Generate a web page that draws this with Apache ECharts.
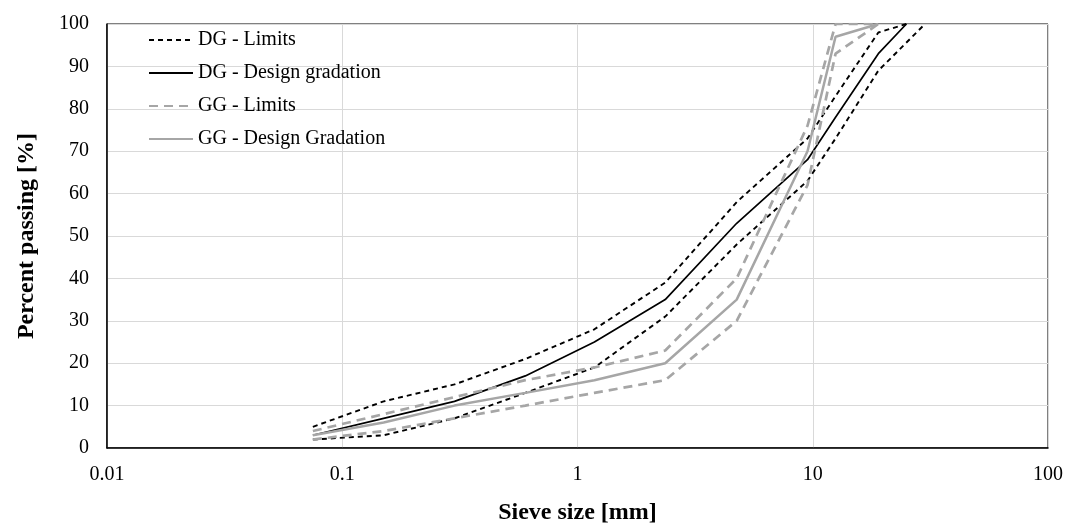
<!DOCTYPE html>
<html>
<head>
<meta charset="utf-8">
<script src="https://cdn.jsdelivr.net/npm/echarts/dist/echarts.min.js"></script>
<style>
  html, body { margin: 0; padding: 0; background: #fff; }
  #chart { width: 1069px; height: 530px; }
</style>
</head>
<body>
<div id="chart"></div>
<script>
// sieve sizes [mm]
const sieveDG = [0.075, 0.15, 0.3, 0.6, 1.18, 2.36, 4.75, 9.5, 12.5, 19, 25]
const sieveDGLow = [0.075, 0.15, 0.3, 0.6, 1.18, 2.36, 4.75, 9.5, 12.5, 19, 30]
const sieveGG = [0.075, 0.15, 0.3, 0.6, 1.18, 2.36, 4.75, 9.5, 12.5, 19]

// percent passing
const dgUpper = [5, 11, 15, 21, 28, 39, 58, 73, 83, 98, 100]
const dgDesign = [3, 7, 11, 17, 25, 35, 53, 68, 78, 93, 100]
const dgLower = [2, 3, 7, 13, 19, 31, 48, 63, 73, 89, 100]
const ggUpper = [4, 8, 12, 16, 19, 23, 40, 76, 100, 100]
const ggDesign = [3, 6, 10, 13, 16, 20, 35, 70, 97, 100]
const ggLower = [2, 4, 7, 10, 13, 16, 30, 62, 93, 100]

const serif = "'Liberation Serif', 'Times New Roman', serif"
const grey = '#a6a6a6'

function pairs(xs, ys) {
  return xs.map((x, i) => [x, ys[i]])
}

function lineSeries(name, xs, ys, color, width, type) {
  return {
    name: name,
    type: 'line',
    symbol: 'none',
    silent: true,
    lineStyle: { color: color, width: width, type: type },
    itemStyle: { color: color },
    data: pairs(xs, ys)
  }
}

const myChart = echarts.init(document.getElementById('chart'))

const options = {
  backgroundColor: '#fff',
  animation: false,
  textStyle: { fontFamily: serif },
  grid: {
    left: 107,
    right: 21,
    top: 24,
    bottom: 78,
    show: true,
    borderColor: '#000',
    borderWidth: 1
  },
  legend: {
    orient: 'vertical',
    left: 143,
    top: 25,
    itemWidth: 44,
    itemHeight: 14,
    itemGap: 13,
    // hide the marker dot, keep the line sample
    itemStyle: { opacity: 0 },
    textStyle: { fontFamily: serif, fontSize: 20, color: '#000' },
    data: ['DG - Limits', 'DG - Design gradation', 'GG - Limits', 'GG - Design Gradation']
  },
  xAxis: {
    type: 'log',
    logBase: 10,
    min: 0.01,
    max: 100,
    name: 'Sieve size [mm]',
    nameLocation: 'middle',
    nameGap: 53,
    nameTextStyle: { fontFamily: serif, fontSize: 24, fontWeight: 'bold', color: '#000' },
    axisLine: { show: true, lineStyle: { color: '#000', width: 1.5 } },
    axisTick: { show: false },
    axisLabel: { fontFamily: serif, fontSize: 20, color: '#000', margin: 17 },
    splitLine: { show: true, lineStyle: { color: '#d9d9d9', width: 1 } },
    minorTick: { show: false },
    minorSplitLine: { show: false }
  },
  yAxis: {
    type: 'value',
    min: 0,
    max: 100,
    interval: 10,
    name: 'Percent passing [%]',
    nameLocation: 'middle',
    nameGap: 68,
    nameTextStyle: { fontFamily: serif, fontSize: 24, fontWeight: 'bold', color: '#000' },
    axisLine: { show: true, lineStyle: { color: '#000', width: 1.5 } },
    axisTick: { show: false },
    axisLabel: { fontFamily: serif, fontSize: 20, color: '#000', margin: 18 },
    splitLine: { show: true, lineStyle: { color: '#d9d9d9', width: 1 } }
  },
  series: [
    lineSeries('DG - Limits', sieveDG, dgUpper, '#000', 1.9, [5, 4]),
    lineSeries('DG - Limits', sieveDGLow, dgLower, '#000', 1.9, [5, 4]),
    lineSeries('DG - Design gradation', sieveDG, dgDesign, '#000', 1.7, 'solid'),
    lineSeries('GG - Limits', sieveGG, ggUpper, grey, 2.7, [9, 6]),
    lineSeries('GG - Limits', sieveGG, ggLower, grey, 2.7, [9, 6]),
    lineSeries('GG - Design Gradation', sieveGG, ggDesign, grey, 2.5, 'solid')
  ]
}

myChart.setOption(options)
</script>
</body>
</html>
